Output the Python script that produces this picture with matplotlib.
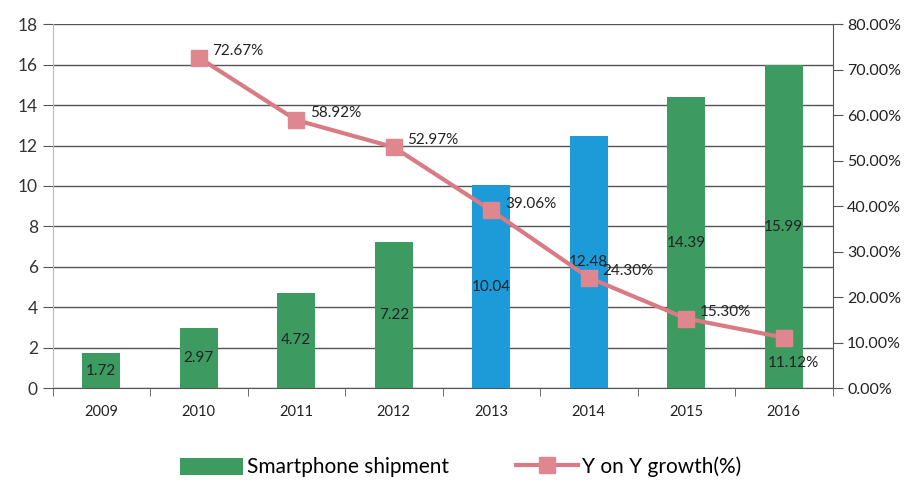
import matplotlib
matplotlib.use("Agg")
import matplotlib.pyplot as plt
from matplotlib.ticker import FuncFormatter, FixedLocator
from matplotlib.lines import Line2D
from matplotlib.patches import Patch
import numpy as np

years = ["2009", "2010", "2011", "2012", "2013", "2014", "2015", "2016"]
shipment = [1.72, 2.97, 4.72, 7.22, 10.04, 12.48, 14.39, 15.99]
bar_colors = ["#3d9b62", "#3d9b62", "#3d9b62", "#3d9b62", "#1c9bd8", "#1c9bd8", "#3d9b62", "#3d9b62"]
growth_years = ["2010", "2011", "2012", "2013", "2014", "2015", "2016"]
growth = [72.67, 58.92, 52.97, 39.06, 24.30, 15.30, 11.12]

plt.rcParams['font.family'] = ['Lato', 'DejaVu Sans']

fig = plt.figure(figsize=(9.22, 4.84), dpi=100)
ax = fig.add_axes([0.057, 0.198, 0.846, 0.752])
x = np.arange(len(years))
ax.bar(x, shipment, width=0.39, color=bar_colors, zorder=3)
ax.set_xlim(-0.5, len(years) - 0.5)
ax.set_ylim(0, 18)
ax.set_yticks(np.arange(0, 19, 2))
ax.yaxis.grid(True, color="#555555", linewidth=1.0, zorder=0)
ax.set_xticks(x)
ax.set_xticklabels(years)
ax.xaxis.set_minor_locator(FixedLocator(np.arange(-0.5, len(years), 1.0)))
ax.tick_params(axis='x', which='major', length=0, pad=12, labelsize=10.5, colors="#222222")
ax.tick_params(axis='x', which='minor', length=6, direction='out', color="#555555")
ax.tick_params(axis='y', length=7, direction='out', labelsize=12.5, colors="#333333", color="#555555")
for s in ["top", "right"]:
    ax.spines[s].set_visible(False)
ax.spines["left"].set_color("#bbbbbb")
ax.spines["bottom"].set_color("#555555")

for xi, v in zip(x, shipment):
    ax.text(xi, v / 2, f"{v:.2f}", ha="center", va="center", fontsize=11, color="#222222", zorder=5)

ax2 = ax.twinx()
gx = [years.index(g) for g in growth_years]
ax2.plot(gx, growth, color="#d97a84", linewidth=3, marker="s", markersize=12,
         markerfacecolor="#e0868e", markeredgecolor="#e0868e", zorder=4)
ax2.set_ylim(0, 80)
ax2.set_yticks(np.arange(0, 81, 10))
ax2.yaxis.set_major_formatter(FuncFormatter(lambda v, p: f"{v:.2f}%"))
ax2.tick_params(axis='y', length=7, direction='out', labelsize=11.5, colors="#222222", color="#555555")
for s in ["top", "left", "bottom"]:
    ax2.spines[s].set_visible(False)
ax2.spines["right"].set_color("#555555")

for i, (xi, g) in enumerate(zip(gx, growth)):
    if i == len(growth) - 1:
        ax2.text(xi + 0.1, g - 5.5, f"{g:.2f}%", ha="center", va="center", fontsize=11, color="#222222", zorder=6)
    else:
        ax2.text(xi + 0.14, g + 1.5, f"{g:.2f}%", ha="left", va="center", fontsize=11, color="#222222", zorder=6)

handles = [Patch(facecolor="#3d9b62"),
           Line2D([0], [0], color="#d97a84", linewidth=3, marker="s", markersize=12,
                  markerfacecolor="#e0868e", markeredgecolor="#e0868e")]
fig.legend(handles, ["Smartphone shipment", "Y on Y growth(%)"], loc="lower center",
           bbox_to_anchor=(0.5, -0.025), ncol=2, frameon=False, fontsize=15,
           handlelength=3.0, handleheight=0.9, columnspacing=3.2, handletextpad=0.2)

fig.savefig("out.png", dpi=100)
